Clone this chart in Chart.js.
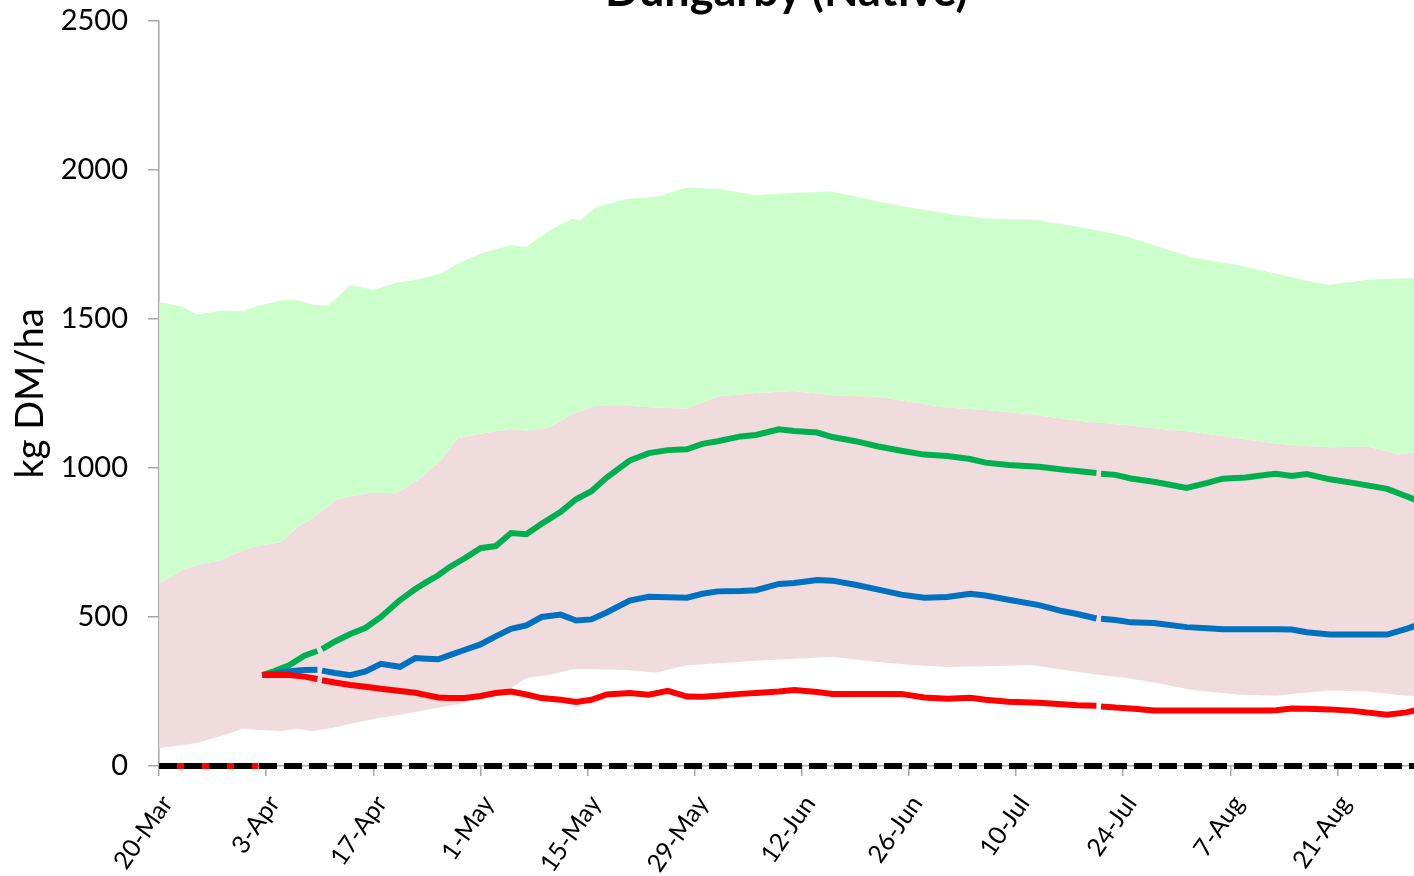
<!DOCTYPE html>
<html>
<head>
<meta charset="utf-8">
<script src="https://cdn.jsdelivr.net/npm/chart.js@4"></script>
<style>
  html, body { margin: 0; padding: 0; background: #fff; overflow: hidden; }
  #wrap { position: relative; width: 1414px; height: 876px; }
  #title {
    position: absolute; left: 159px; right: 0; top: -33px;
    text-align: center; font: bold 45px Lato, "Open Sans", sans-serif;
    line-height: 45px; color: #000; white-space: nowrap;
  }
</style>
</head>
<body>
<div id="wrap"><canvas id="chart"></canvas><div id="title">Dungarby (Native)</div></div>
<script>
// x values are days after 20-Mar
const tickDays  = [0, 14, 28, 42, 56, 70, 84, 98, 112, 126, 140, 154];
const tickNames = ['20-Mar', '3-Apr', '17-Apr', '1-May', '15-May', '29-May',
                   '12-Jun', '26-Jun', '10-Jul', '24-Jul', '7-Aug', '21-Aug'];
const yTicks = [0, 500, 1000, 1500, 2000, 2500];

// shaded ranges
const bandDays = [0, 3, 5, 8, 11, 13, 16, 18, 20, 22, 23, 25, 28, 31, 34, 37, 39, 42, 46, 48,
                  51, 54, 55, 57, 61, 65, 69, 73, 78, 83, 88, 94, 98, 103, 108, 114, 119, 123,
                  126, 130, 135, 141, 146, 150, 153, 158, 162, 165];
const bandHigh = [1557, 1542, 1515, 1528, 1527, 1545, 1562, 1564, 1549, 1545, 1565, 1614, 1597,
                  1622, 1633, 1655, 1685, 1720, 1748, 1742, 1797, 1836, 1830, 1874, 1903, 1910,
                  1941, 1937, 1916, 1924, 1928, 1894, 1875, 1854, 1837, 1834, 1815, 1795, 1780,
                  1748, 1706, 1681, 1652, 1628, 1615, 1632, 1636, 1637];
const bandMid  = [612, 657, 675, 690, 725, 738, 752, 800, 830, 870, 892, 905, 917, 915, 962,
                  1030, 1100, 1115, 1131, 1126, 1135, 1180, 1190, 1208, 1210, 1202, 1200, 1240,
                  1252, 1258, 1244, 1239, 1222, 1203, 1195, 1180, 1162, 1152, 1145, 1133, 1122,
                  1100, 1082, 1074, 1070, 1072, 1045, 1057];
const bandLow  = [60, 70, 78, 100, 125, 121, 117, 125, 117, 125, 130, 141, 158, 170, 184, 198,
                  206, 235, 262, 295, 305, 325, 325, 325, 322, 314, 338, 345, 353, 360, 366, 349,
                  340, 332, 335, 339, 320, 305, 297, 280, 255, 240, 236, 247, 253, 250, 238, 233];

// simulated lines (null = break in the line)
const lineDays = [13.5, 15, 17, 19, 20.7, 21, 21.3, 23, 25, 27, 29, 31.5, 33.5, 35, 36.5, 38,
                  40, 42, 44, 46, 48, 50, 52.5, 54.5, 56.5, 58.5, 61.5, 64, 66.5, 69, 71, 73,
                  76, 78, 81, 83, 86, 88, 91, 94, 97, 100, 103, 106, 108, 111, 115, 118, 120,
                  122.5, 122.8, 123.1, 125, 127, 130, 134.3, 137, 139, 142, 145, 146, 148, 150,
                  153, 156, 160.5, 163, 165];
const greenLine = [305, 318, 338, 370, 386, null, 392, 418, 443, 464, 500, 557, 594, 618, 640,
                   668, 698, 731, 738, 782, 778, 813, 853, 895, 922, 968, 1025, 1050, 1060, 1063,
                   1081, 1090, 1106, 1111, 1130, 1124, 1119, 1104, 1090, 1072, 1058, 1045, 1040,
                   1030, 1018, 1010, 1004, 995, 990, 983, null, 981, 977, 965, 954, 933, 950,
                   964, 968, 978, 981, 973, 980, 962, 950, 930, 905, 885];
const blueLine  = [305, 310, 318, 322, 323, null, 320, 312, 305, 317, 343, 333, 362, 360, 358,
                   372, 390, 408, 435, 460, 472, 500, 508, 488, 492, 515, 555, 568, 566, 565,
                   578, 586, 587, 590, 611, 614, 624, 622, 608, 592, 575, 565, 567, 578, 572,
                   558, 540, 520, 510, 495, null, 494, 490, 482, 480, 466, 462, 459, 459, 459,
                   459, 458, 449, 441, 441, 441, 460, 478];
const redLine   = [305, 306, 305, 300, 292, null, 288, 280, 272, 266, 259, 252, 246, 238, 230,
                   228, 228, 235, 245, 250, 240, 228, 222, 215, 222, 240, 245, 239, 252, 233,
                   232, 236, 242, 245, 250, 255, 248, 242, 242, 242, 242, 230, 226, 229, 222,
                   216, 212, 207, 204, 202, null, 200, 196, 193, 186, 186, 186, 186, 186, 186,
                   187, 193, 192, 190, 185, 172, 180, 192];
const redZeroDays = [0, 13];
const redZero     = [0, 0];
const zeroDays = [0, 165];
const zeroLine = [0, 0];

const pts = (days, vals) => days.map((d, i) => ({ x: d, y: vals[i] }));

Chart.defaults.font.family = 'Lato, "Open Sans", sans-serif';
Chart.defaults.color = '#000';

const axisGrey = '#a6a6a6';

function lineSet(days, vals, color) {
  return {
    data: pts(days, vals),
    borderColor: color,
    borderWidth: 6,
    pointRadius: 0,
    fill: false,
    spanGaps: false,
  };
}

new Chart(document.getElementById('chart'), {
  type: 'line',
  data: {
    datasets: [
      { ...lineSet(zeroDays, zeroLine, '#000'), borderDash: [18, 7], clip: false },
      lineSet(lineDays, redLine, '#ff0000'),
      lineSet(lineDays, blueLine, '#0070c0'),
      lineSet(lineDays, greenLine, '#00b050'),
      { ...lineSet(redZeroDays, redZero, '#ff0000'), clip: false },
      { data: pts(bandDays, bandHigh), borderWidth: 0, pointRadius: 0,
        fill: '+1', backgroundColor: '#ccffcc' },
      { data: pts(bandDays, bandMid), borderWidth: 0, pointRadius: 0,
        fill: '+1', backgroundColor: '#f0dcdc' },
      { data: pts(bandDays, bandLow), borderWidth: 0, pointRadius: 0, fill: false },
    ],
  },
  options: {
    responsive: true,
    maintainAspectRatio: false,
    animation: false,
    layout: { padding: { top: 21 } },
    plugins: {
      legend: { display: false },
      tooltip: { enabled: false },
      filler: { drawTime: 'beforeDatasetsDraw' },
      title: { display: false },
    },
    scales: {
      x: {
        type: 'linear',
        min: 0,
        max: 164,
        afterBuildTicks: s => { s.ticks = tickDays.map(v => ({ value: v })); },
        afterFit: s => { s.height = 110; },
        grid: { drawOnChartArea: false, drawTicks: true, tickLength: 10, color: axisGrey, lineWidth: 1.5 },
        border: { color: axisGrey, width: 1.5 },
        ticks: {
          autoSkip: false,
          minRotation: 55,
          maxRotation: 55,
          padding: 14,
          labelOffset: 8,
          font: { size: 25 },
          callback: v => tickNames[tickDays.indexOf(v)],
        },
      },
      y: {
        min: 0,
        max: 2500,
        afterBuildTicks: s => { s.ticks = yTicks.map(v => ({ value: v })); },
        // fixed width; label overhang is covered by the top padding
        afterFit: s => { s.width = 159; s.paddingTop = 0; },
        grid: { drawOnChartArea: false, drawTicks: true, tickLength: 11, color: axisGrey, lineWidth: 1.5 },
        border: { color: axisGrey, width: 1.5 },
        ticks: { padding: 20, font: { size: 29 }, callback: v => String(v) },
        title: {
          display: true,
          text: 'kg DM/ha',
          font: { size: 38 },
          padding: { top: 8, bottom: 0 },
        },
      },
    },
  },
});
</script>
</body>
</html>
